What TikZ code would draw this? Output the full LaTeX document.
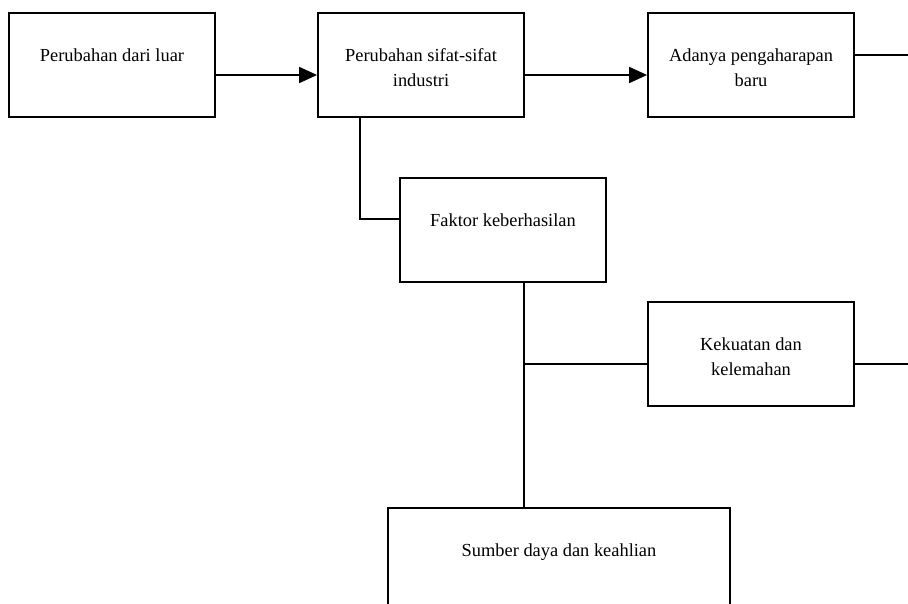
\documentclass[tikz,border=0pt]{standalone}
\usepackage{fontspec}
\setmainfont{Liberation Serif}
\usetikzlibrary{arrows.meta, positioning}

\begin{document}
\begin{tikzpicture}[
    x=1pt, y=-1pt,
    box/.style={
        draw, line width=1.8pt,
        minimum width=206pt, minimum height=104pt,
        inner sep=0pt
    },
    txt/.style={
        inner sep=0pt, align=center,
        font=\fontsize{18.4}{25}\selectfont
    },
    garis/.style={line width=1.8pt},
    arr/.style={-{Triangle[length=18pt, width=16pt]}, line width=1.8pt}
]
\useasboundingbox (0,0) rectangle (908,603);

% Boxes: top row, then the chain going down
\node[box] (luar)   at (112,65)  {};
\node[box] (sifat)  at (421,65)  {};
\node[box] (harap)  at (751,65)  {};
\node[box] (faktor) at (503,230) {};
\node[box] (kuat)   at (751,354) {};
\node[box, minimum width=342pt, minimum height=130pt] (sumber) at (559,573) {};

% Texts, hung from the top edge of each box
\node[txt, below=36pt of luar.north,   anchor=north] (tluar)   {Perubahan dari luar};
\node[txt, below=36pt of sifat.north,  anchor=north] (tsifat)  {Perubahan sifat-sifat\\industri};
\node[txt, below=36pt of harap.north,  anchor=north] (tharap)  {Adanya pengaharapan\\baru};
\node[txt, below=36pt of faktor.north, anchor=north] (tfaktor) {Faktor keberhasilan};
\node[txt, below=36pt of kuat.north,   anchor=north] (tkuat)   {Kekuatan dan\\kelemahan};
\node[txt, below=36pt of sumber.north, anchor=north] (tsumber) {Sumber daya dan keahlian};

% Free ends at the right border
\coordinate (keluar1) at (908,55);
\coordinate (keluar2) at (908,364);
\coordinate (cabang)  at (524,364);

% Top row arrows
\draw[arr] ([yshift=-10pt]luar.east)  -- ([yshift=-10pt]sifat.west);
\draw[arr] ([yshift=-10pt]sifat.east) -- ([yshift=-10pt]harap.west);
\draw[garis] (harap.east |- keluar1) -- (keluar1);

% Down to the success factors
\draw[garis] ([xshift=-61pt]sifat.south) |- ([yshift=11pt]faktor.west);
\draw[garis] (faktor.south -| cabang) -- (sumber.north -| cabang);
\draw[garis] (cabang) -- (cabang -| kuat.west);
\draw[garis] (kuat.east |- keluar2) -- (keluar2);

\end{tikzpicture}
\end{document}
